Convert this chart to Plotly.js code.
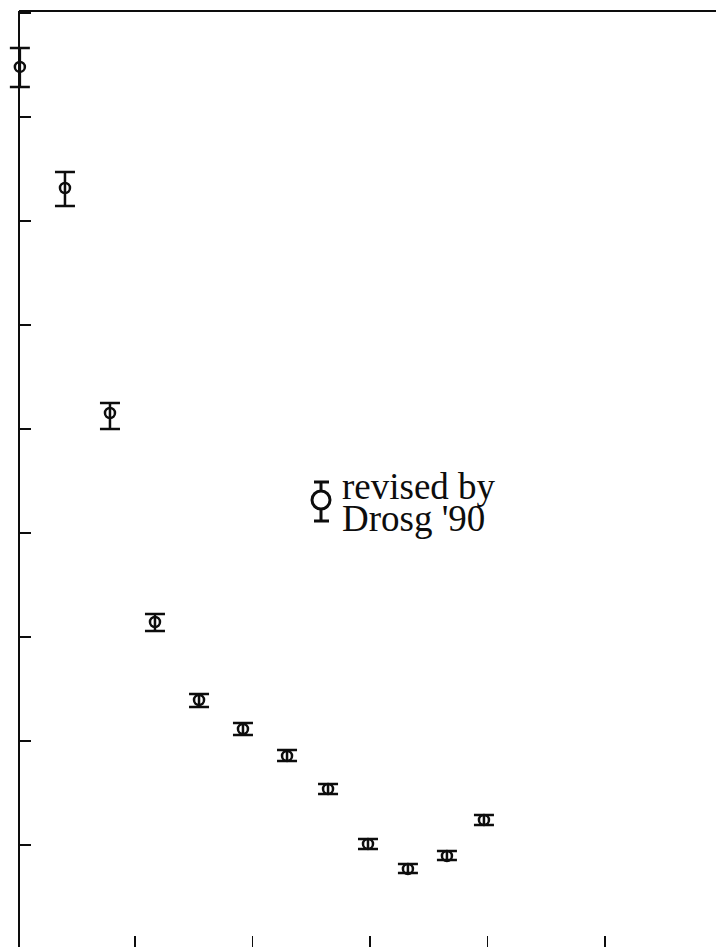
<!DOCTYPE html>
<html>
<head>
<meta charset="utf-8">
<script src="https://cdn.plot.ly/plotly-3.0.1.min.js"></script>
<style>html,body{margin:0;padding:0;background:#fff;}#chart{width:716px;height:947px;}</style>
</head>
<body>
<div id="chart"></div>
<script>
// Data (arbitrary units: x ticks at 1..5, y ticks at 2..10)
const energy = [0.02, 0.404, 0.787, 1.170, 1.545, 1.919, 2.294, 2.643, 2.983, 3.323, 3.655, 3.970];
const value = [9.481, 8.317, 6.154, 4.144, 3.394, 3.115, 2.856, 2.538, 2.010, 1.769, 1.894, 2.240];
const errUp = [0.183, 0.154, 0.096, 0.077, 0.058, 0.058, 0.058, 0.048, 0.048, 0.048, 0.048, 0.048];
const errDown = [0.192, 0.173, 0.154, 0.087, 0.067, 0.058, 0.048, 0.048, 0.048, 0.038, 0.038, 0.048];
const xTicks = [1, 2, 3, 4, 5];
const yTicks = [2, 3, 4, 5, 6, 7, 8, 9, 10];
const legendLines = ["revised by", "Drosg '90"];

// plot area geometry (pixels) for decoration placement
const L = 0, T = 11, W = 716, H = 936;
const AXIS_X = 19; // pixel position of the left axis line
const px = v => (v - L) / W;
const py = v => 1 - (v - T) / H;

const ink = '#0d0d0d';

const trace = {
  x: energy, y: value, type: 'scatter', mode: 'markers',
  marker: {symbol: 'circle-open', size: 10, color: ink, line: {width: 2.5, color: ink}},
  error_y: {type: 'data', symmetric: false, array: errUp, arrayminus: errDown,
            thickness: 2.5, width: 10, color: ink},
  cliponaxis: false, hoverinfo: 'skip'
};

const lw = 3;
const shapes = [
  // top frame line
  {type: 'line', xref: 'paper', yref: 'paper', x0: px(AXIS_X), x1: 1, y0: 1, y1: 1, line: {color: ink, width: 2}},
  // legend key: circle with error bar
  {type: 'circle', xref: 'paper', yref: 'paper', x0: px(312), x1: px(330), y0: py(509), y1: py(491), line: {color: ink, width: lw}},
  {type: 'line', xref: 'paper', yref: 'paper', x0: px(321), x1: px(321), y0: py(482), y1: py(491), line: {color: ink, width: lw}},
  {type: 'line', xref: 'paper', yref: 'paper', x0: px(321), x1: px(321), y0: py(509), y1: py(521), line: {color: ink, width: lw}},
  {type: 'line', xref: 'paper', yref: 'paper', x0: px(314), x1: px(329), y0: py(482), y1: py(482), line: {color: ink, width: lw}},
  {type: 'line', xref: 'paper', yref: 'paper', x0: px(314), x1: px(329), y0: py(521), y1: py(521), line: {color: ink, width: lw}}
];

const annotations = legendLines.map((t, i) => ({
  text: t, xref: 'paper', yref: 'paper', x: px(340), y: py(486 + i * 32),
  xanchor: 'left', yanchor: 'middle', showarrow: false,
  font: {family: 'Liberation Serif, Times New Roman, serif', size: 37, color: ink}
}));

const layout = {
  width: 716, height: 947,
  margin: {l: L, r: 0, t: T, b: 0, pad: 0},
  paper_bgcolor: '#fff', plot_bgcolor: '#fff',
  showlegend: false,
  xaxis: {range: [-0.149, 5.945], tickmode: 'array', tickvals: xTicks, ticks: 'inside',
          ticklen: 11, tickwidth: 1.5, tickcolor: ink, showticklabels: false,
          showline: false, showgrid: false, zeroline: false, fixedrange: true},
  yaxis: {range: [1.019, 10.019], anchor: 'free', position: px(AXIS_X),
          tickmode: 'array', tickvals: yTicks, ticks: 'inside',
          ticklen: 11, tickwidth: 2, tickcolor: ink, showticklabels: false,
          showline: true, linewidth: 2.2, linecolor: ink, showgrid: false, zeroline: false, fixedrange: true},
  shapes: shapes,
  annotations: annotations
};

Plotly.newPlot('chart', [trace], layout, {displayModeBar: false, staticPlot: true});
</script>
</body>
</html>
